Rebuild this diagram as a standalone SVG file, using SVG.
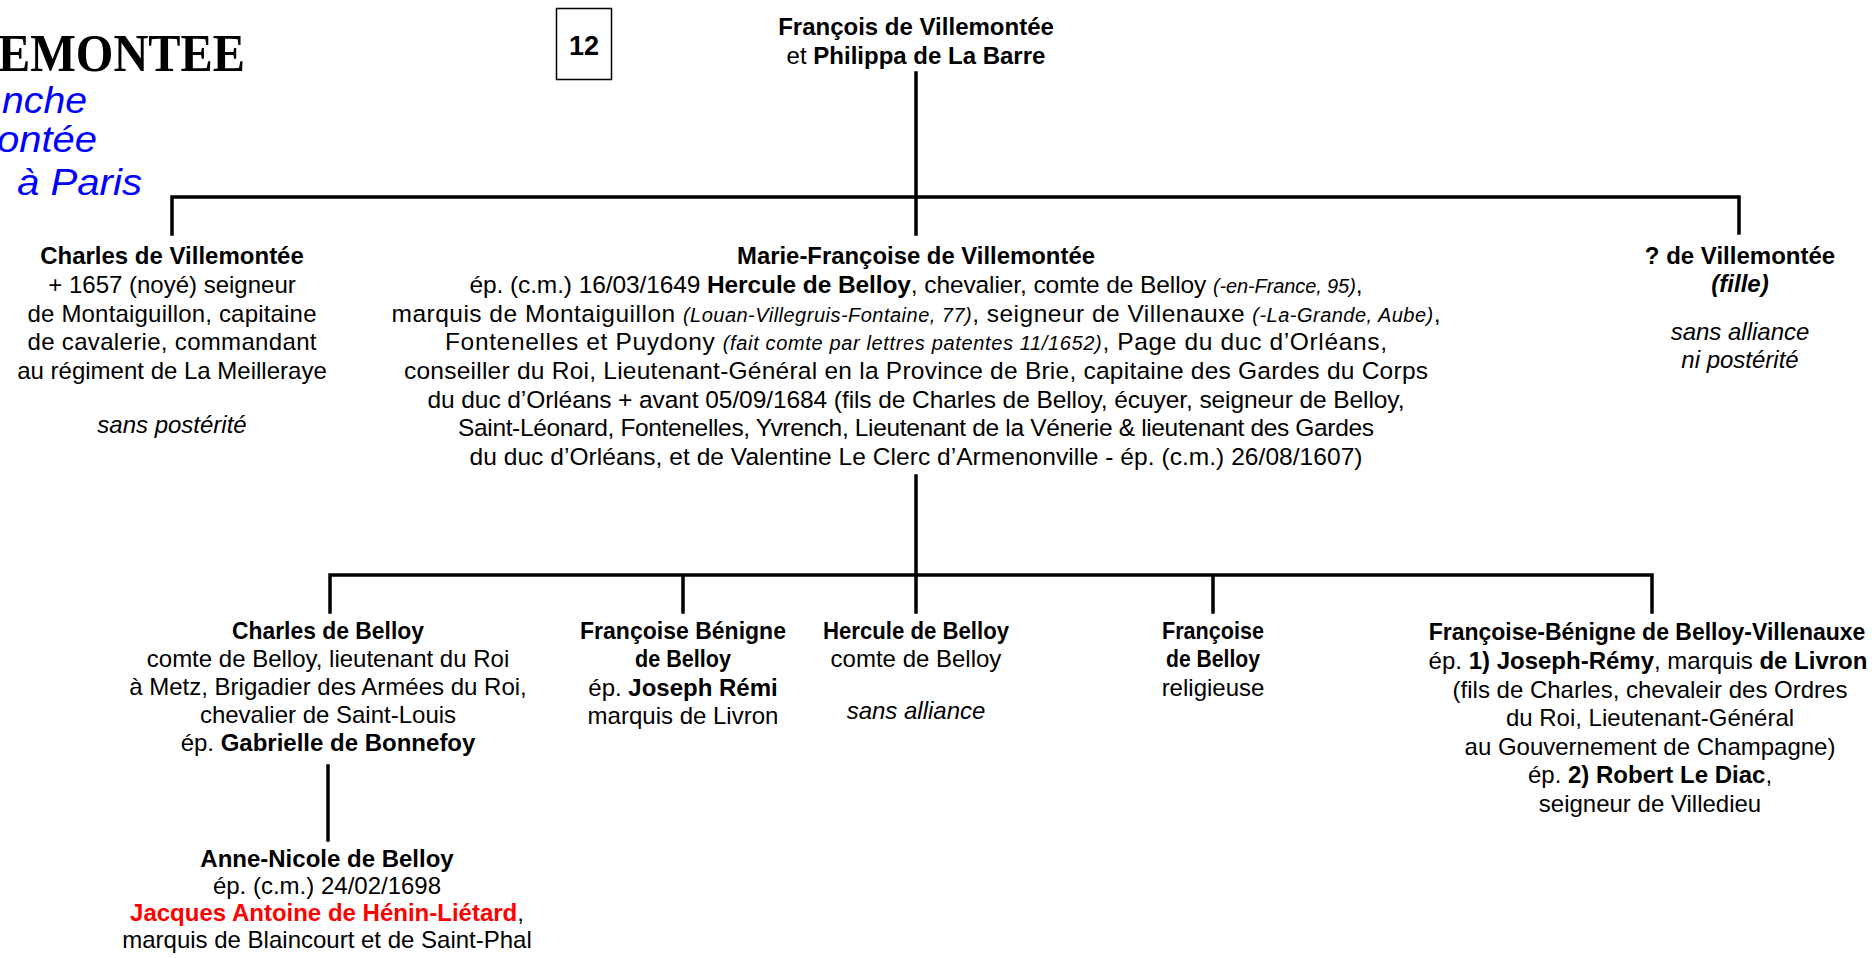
<svg xmlns="http://www.w3.org/2000/svg" width="1876" height="958" viewBox="0 0 1876 958">
<style>
.t{font-family:"Liberation Sans",Arial,sans-serif;font-size:24px;fill:#000;text-anchor:middle}
.m{font-size:24.5px}
.b{font-weight:bold}
.i{font-style:italic}
.s{font-size:20px;font-style:italic}
.red{fill:#ff0000}
.blue{font-family:"Liberation Sans",Arial,sans-serif;font-size:37px;font-style:italic;fill:#0000ff;text-anchor:end}
.ttl{font-family:"Liberation Serif","Times New Roman",serif;font-size:53px;font-weight:bold;fill:#000;text-anchor:end}
.ln{stroke:#000;stroke-width:3.5;fill:none;stroke-linecap:square}
</style>
<rect width="1876" height="958" fill="#fff"/>

<g id="title">
<text class="ttl" x="245" y="71" textLength="247" lengthAdjust="spacingAndGlyphs">EMONTEE</text>
<text class="blue" x="87" y="113" textLength="85" lengthAdjust="spacingAndGlyphs">nche</text>
<text class="blue" x="97" y="152" textLength="100" lengthAdjust="spacingAndGlyphs">ontée</text>
<text class="blue" x="142" y="195" textLength="125" lengthAdjust="spacingAndGlyphs">à Paris</text>
</g>

<g id="page-box">
<rect x="556.5" y="8.5" width="55" height="71" fill="none" stroke="#000" stroke-width="1.5"/>
<text class="t b" x="584" y="55" style="font-size:27px">12</text>
</g>

<g id="connectors">
<path class="ln" d="M916,73 V234 M172,197 H1739 M172,197 V234 M1739,197 V233"/>
<path class="ln" d="M916,476 V612 M330,575 H1652 M330,575 V612 M683,575 V612 M1213,575 V612 M1652,575 V612"/>
<path class="ln" d="M328,766 V840"/>
</g>

<g id="n-francois">
<text class="t b" x="916" y="35">François de Villemontée</text>
<text class="t" x="916" y="64">et <tspan class="b">Philippa de La Barre</tspan></text>
</g>

<g id="n-charles-villemontee">
<text class="t b" x="172" y="264">Charles de Villemontée</text>
<text class="t" x="172" y="293">+ 1657 (noyé) seigneur</text>
<text class="t" x="172" y="322" textLength="289" lengthAdjust="spacing">de Montaiguillon, capitaine</text>
<text class="t" x="172" y="350" textLength="289" lengthAdjust="spacing">de cavalerie, commandant</text>
<text class="t" x="172" y="379">au régiment de La Meilleraye</text>
<text class="t i" x="172" y="433">sans postérité</text>
</g>

<g id="n-marie">
<text class="t m b" x="916" y="264" textLength="358" lengthAdjust="spacingAndGlyphs">Marie-Françoise de Villemontée</text>
<text class="t m" x="916" y="293" textLength="893" lengthAdjust="spacing">ép. (c.m.) 16/03/1649 <tspan class="b">Hercule de Belloy</tspan>, chevalier, comte de Belloy <tspan class="s">(-en-France, 95)</tspan>,</text>
<text class="t m" x="916" y="322" textLength="1049" lengthAdjust="spacing">marquis de Montaiguillon  <tspan class="s">(Louan-Villegruis-Fontaine, 77)</tspan>, seigneur de Villenauxe  <tspan class="s">(-La-Grande, Aube)</tspan>,</text>
<text class="t m" x="916" y="350" textLength="942" lengthAdjust="spacing">Fontenelles et Puydony <tspan class="s">(fait comte par lettres patentes 11/1652)</tspan>, Page du duc d’Orléans,</text>
<text class="t m" x="916" y="379" textLength="1024" lengthAdjust="spacing">conseiller du Roi, Lieutenant-Général en la Province de Brie, capitaine des Gardes du Corps</text>
<text class="t m" x="916" y="408" textLength="977" lengthAdjust="spacing">du duc d’Orléans + avant 05/09/1684 (fils de Charles de Belloy, écuyer, seigneur de Belloy,</text>
<text class="t m" x="916" y="436" textLength="916" lengthAdjust="spacing">Saint-Léonard, Fontenelles, Yvrench, Lieutenant de la Vénerie &amp; lieutenant des Gardes</text>
<text class="t m" x="916" y="465" textLength="893" lengthAdjust="spacing">du duc d’Orléans, et de Valentine Le Clerc d’Armenonville - ép. (c.m.) 26/08/1607)</text>
</g>

<g id="n-fille">
<text class="t b" x="1740" y="264">? de Villemontée</text>
<text class="t b i" x="1740" y="292">(fille)</text>
<text class="t i" x="1740" y="340">sans alliance</text>
<text class="t i" x="1740" y="368">ni postérité</text>
</g>

<g id="n-charles-belloy">
<text class="t b" x="328" y="639" textLength="192" lengthAdjust="spacingAndGlyphs">Charles de Belloy</text>
<text class="t" x="328" y="667">comte de Belloy, lieutenant du Roi</text>
<text class="t" x="328" y="695">à Metz, Brigadier des Armées du Roi,</text>
<text class="t" x="328" y="723">chevalier de Saint-Louis</text>
<text class="t" x="328" y="751">ép. <tspan class="b">Gabrielle de Bonnefoy</tspan></text>
</g>

<g id="n-francoise-benigne">
<text class="t b" x="683" y="639" textLength="206" lengthAdjust="spacingAndGlyphs">Françoise Bénigne</text>
<text class="t b" x="683" y="667" textLength="96" lengthAdjust="spacingAndGlyphs">de Belloy</text>
<text class="t" x="683" y="696">ép. <tspan class="b">Joseph Rémi</tspan></text>
<text class="t" x="683" y="724">marquis de Livron</text>
</g>

<g id="n-hercule">
<text class="t b" x="916" y="639" textLength="186" lengthAdjust="spacingAndGlyphs">Hercule de Belloy</text>
<text class="t" x="916" y="667">comte de Belloy</text>
<text class="t i" x="916" y="719">sans alliance</text>
</g>

<g id="n-francoise">
<text class="t b" x="1213" y="639" textLength="102" lengthAdjust="spacingAndGlyphs">Françoise</text>
<text class="t b" x="1213" y="667" textLength="94" lengthAdjust="spacingAndGlyphs">de Belloy</text>
<text class="t" x="1213" y="696">religieuse</text>
</g>

<g id="n-francoise-benigne-villenauxe">
<text class="t b" x="1647" y="640" style="font-size:23px">Françoise-Bénigne de Belloy-Villenauxe</text>
<text class="t" x="1648" y="669">ép. <tspan class="b">1) Joseph-Rémy</tspan>, marquis <tspan class="b">de Livron</tspan></text>
<text class="t" x="1650" y="698">(fils de Charles, chevaleir des Ordres</text>
<text class="t" x="1650" y="726">du Roi, Lieutenant-Général</text>
<text class="t" x="1650" y="755">au Gouvernement de Champagne)</text>
<text class="t" x="1650" y="783">ép. <tspan class="b">2) Robert Le Diac</tspan>,</text>
<text class="t" x="1650" y="812">seigneur de Villedieu</text>
</g>

<g id="n-anne-nicole">
<text class="t b" x="327" y="867">Anne-Nicole de Belloy</text>
<text class="t" x="327" y="894">ép. (c.m.) 24/02/1698</text>
<text class="t" x="327" y="921"><tspan class="b red">Jacques Antoine de Hénin-Liétard</tspan>,</text>
<text class="t" x="327" y="948">marquis de Blaincourt et de Saint-Phal</text>
</g>
</svg>
